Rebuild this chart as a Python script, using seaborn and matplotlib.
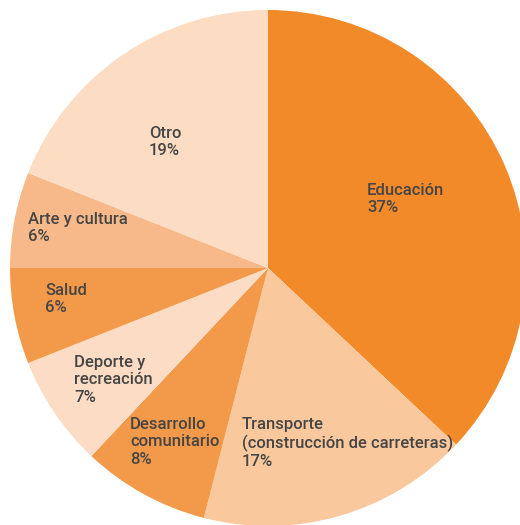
import matplotlib
matplotlib.use("Agg")
import matplotlib.pyplot as plt
import seaborn as sns

# ---- data ----
categories = ["Educación", "Transporte\n(construcción de carreteras)", "Desarrollo\ncomunitario",
              "Deporte y\nrecreación", "Salud", "Arte y cultura", "Otro"]
values = [37, 17, 8, 7, 6, 6, 19]
colors = ["#F38A2A", "#F9C89C", "#F3994A", "#FCDCC4", "#F3994A", "#F7B98A", "#FCDCC2"]

# label anchor positions (pixels from top-left), layout only
label_pos = [(367, 183), (242, 417), (130, 417), (74, 355), (45, 283), (28, 212), (149, 126)]

sns.set_theme(style="white")
plt.rcParams['font.family'] = ['Roboto', 'DejaVu Sans']

W, H = 520, 525
fig = plt.figure(figsize=(W / 100, H / 100), dpi=100)
ax = fig.add_axes([0, 0, 1, 1])

cx, cy, R = 268, H - 268, 258
ax.pie(values, colors=colors, startangle=90, counterclock=False,
       radius=R, center=(cx, cy), frame=True,
       wedgeprops=dict(linewidth=0))
ax.set_xlim(0, W)
ax.set_ylim(0, H)
ax.set_aspect("auto")
ax.axis("off")

for cat, v, (px, py) in zip(categories, values, label_pos):
    ax.text(px, H - py, f"{cat}\n{v}%", ha="left", va="top", fontsize=12,
            color="#454545", linespacing=1.2, fontweight="medium")

fig.savefig("out.png", dpi=100)
